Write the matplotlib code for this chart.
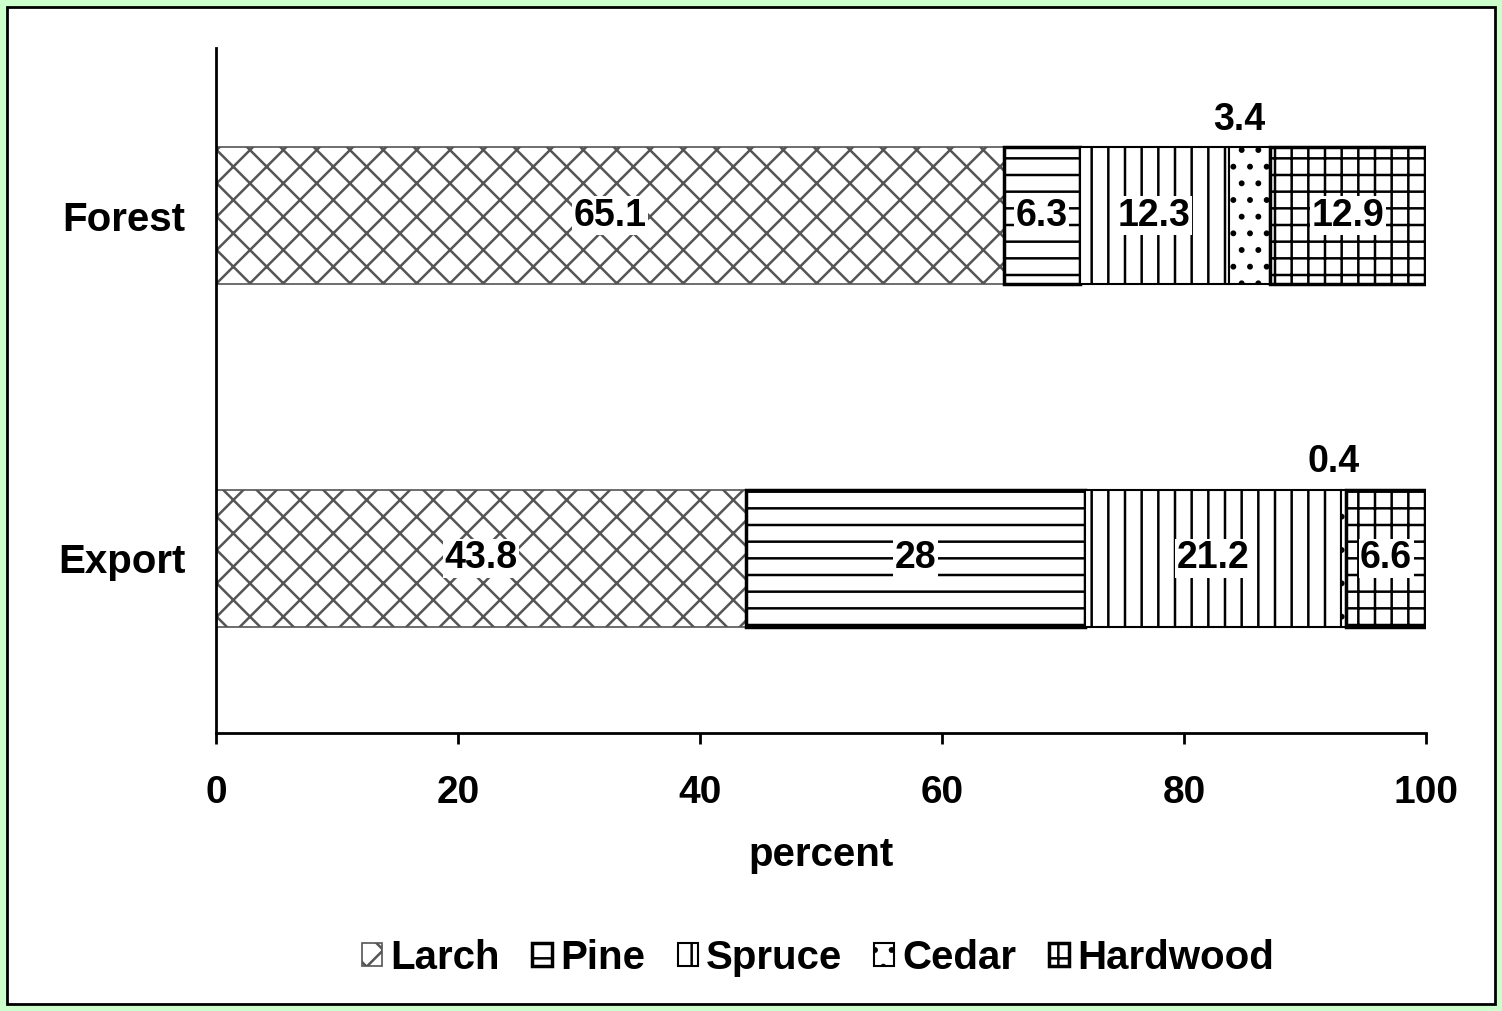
import matplotlib.pyplot as plt
import numpy as np
from matplotlib.patches import Rectangle

plt.rcParams["font.family"] = ["Liberation Sans", "DejaVu Sans"]
plt.rcParams["font.weight"] = "bold"
plt.rcParams["hatch.linewidth"] = 1.8

categories = ["Export", "Forest"]
species = ["Larch", "Pine", "Spruce", "Cedar", "Hardwood"]
values = {
    "Larch": [43.8, 65.1],
    "Pine": [28, 6.3],
    "Spruce": [21.2, 12.3],
    "Cedar": [0.4, 3.4],
    "Hardwood": [6.6, 12.9],
}
labels = {
    "Larch": ["43.8", "65.1"],
    "Pine": ["28", "6.3"],
    "Spruce": ["21.2", "12.3"],
    "Cedar": ["0.4", "3.4"],
    "Hardwood": ["6.6", "12.9"],
}
hatches = {"Larch": "x", "Pine": "-", "Spruce": "|", "Cedar": ".", "Hardwood": "+"}
edges = {"Larch": "#555555", "Pine": "black", "Spruce": "black", "Cedar": "black", "Hardwood": "black"}
widths = {"Larch": 1.2, "Pine": 2.5, "Spruce": 1.5, "Cedar": 1.5, "Hardwood": 2.5}

fig = plt.figure(figsize=(15.02, 10.11), dpi=100, facecolor="#ccffcc")
# white panel with black frame
fig.patches.append(Rectangle((7/1502, 7/1011), 1 - 14/1502, 1 - 14/1011,
                             transform=fig.transFigure, facecolor="white",
                             edgecolor="black", linewidth=2, zorder=-1))

ax = fig.add_axes([216/1502, 278/1011, 1210/1502, 685/1011])
ax.set_facecolor("white")

y = np.arange(len(categories))
left = np.zeros(len(categories))
for sp in species:
    v = np.array(values[sp])
    ax.barh(y, v, left=left, height=0.4, color="white", hatch=hatches[sp],
            edgecolor=edges[sp], linewidth=widths[sp], label=sp)
    for i, val in enumerate(v):
        if val < 4:
            ax.text(left[i] + val / 2 - 0.8, y[i] + 0.28, labels[sp][i], ha="center", va="center",
                    fontsize=27, fontweight="bold")
        else:
            ax.text(left[i] + val / 2, y[i], labels[sp][i], ha="center", va="center",
                    fontsize=27, fontweight="bold",
                    bbox=dict(facecolor="white", edgecolor="none", pad=1))
    left += v

ax.set_xlim(0, 100)
ax.set_ylim(-0.51, 1.49)
ax.set_yticks(y)
ax.set_yticklabels(categories, fontsize=29, fontweight="bold")
ax.tick_params(axis="y", length=0, pad=22)
ax.set_xticks([0, 20, 40, 60, 80, 100])
ax.tick_params(axis="x", length=8, width=2, labelsize=28, pad=22)
for lab in ax.get_xticklabels():
    lab.set_fontweight("bold")
ax.spines["top"].set_visible(False)
ax.spines["right"].set_visible(False)
ax.spines["left"].set_linewidth(2)
ax.spines["bottom"].set_linewidth(2)
ax.set_xlabel("percent", fontsize=29, fontweight="bold", labelpad=18)

fig.legend(loc="center", bbox_to_anchor=(818/1502, 1 - 958/1011), ncol=5, frameon=False,
           prop={"size": 29, "weight": "bold"}, handlelength=0.5, handleheight=0.5,
           handletextpad=0.2, columnspacing=0.8)

fig.savefig("out.png", dpi=100, facecolor=fig.get_facecolor())
